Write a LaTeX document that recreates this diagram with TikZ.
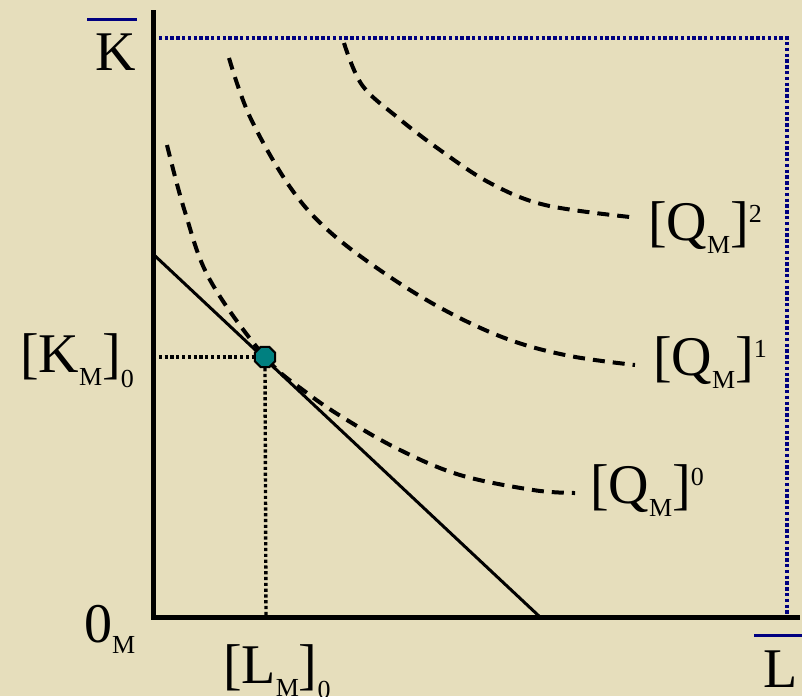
\documentclass[tikz,border=0pt]{standalone}
\usepackage{fontspec}
\setmainfont{Liberation Serif}
\usetikzlibrary{shapes.geometric}
\definecolor{bg}{RGB}{230,222,188}
\definecolor{navyd}{RGB}{0,0,128}
\definecolor{tealdot}{RGB}{0,128,128}
\newcommand{\bigf}{\fontsize{56}{60}\selectfont}
\newcommand{\smf}{\fontsize{26}{28}\selectfont}
\newcommand{\sbM}{\raisebox{-13pt}{\smf M}}
\newcommand{\sbZ}{\raisebox{-15pt}{\smf 0}}
\newcommand{\spX}[1]{\raisebox{18pt}{\smf #1}}
\tikzset{
  lbl/.style={inner sep=0pt, outer sep=0pt, anchor=base west, font=\bigf},
  axis/.style={line width=5pt},
  frame/.style={navyd, line width=3.6pt, dash pattern=on 3.4pt off 2.4pt},
  guide/.style={black, line width=3.4pt, dash pattern=on 3.2pt off 2.6pt},
  iso/.style={line width=4pt, dash pattern=on 12pt off 8pt},
  budget/.style={line width=3pt},
  barline/.style={navyd, line width=3pt}
}
\begin{document}
\begin{tikzpicture}[x=1pt,y=-1pt]
\useasboundingbox (0,0) rectangle (802,696);
\fill[bg] (0,0) rectangle (802,696);
% coordinates
\coordinate (O) at (153,617);
\coordinate (Ktop) at (153,10);
\coordinate (Lend) at (800,617);
\coordinate (Kbar) at (153,38);
\coordinate (corner) at (787,38);
\coordinate (Lbar) at (787,617);
\coordinate (B1) at (153,254);
\coordinate (B2) at (540,617);
\coordinate (Ky) at (153,357);
\coordinate (Lx) at (266,617);
% frame
\draw[frame] (Kbar) -- (corner) -- (Lbar);
% iso curves
\draw[iso] plot[smooth, tension=0.6] coordinates {(167,145) (185,212) (210,280) (265,357) (307,393) (347,420) (400,450) (460,475) (533,490) (575,493)};
\draw[iso] plot[smooth, tension=0.6] coordinates {(229,58) (250,117) (290,187) (330,232) (390,277) (450,313) (510,340) (570,356) (635,365)};
\draw[iso] plot[smooth, tension=0.6] coordinates {(344,43) (362,85) (397,117) (440,150) (490,183) (545,205) (630,217)};
% budget
\draw[budget] (B1) -- (B2);
% guides
\node[regular polygon, regular polygon sides=8, minimum size=22pt, inner sep=0pt, fill=tealdot, draw=black, line width=2pt] (E) at (265,357) {};
\draw[guide] (Ky) -- (E.west);
\draw[guide] (E.south) -- (Lx);
% axes
\draw[axis] (Ktop) -- (O) -- (Lend);
% labels
\node[lbl] (Klab) at (95,70) {K};
\draw[barline] (87,19) -- (137,19);
\node[lbl] (Llab) at (763,687) {L};
\draw[barline] (754,635) -- (802,635);
\node[lbl] (Olab) at (84,642) {0\raisebox{-11pt}{\smf M}};
\node[lbl] (LM) at (223,683) {[L\sbM]\sbZ};
\node[lbl] (KM) at (20,372) {[K\sbM]\sbZ};
\node[lbl] (Q2) at (648,240) {[Q\sbM]\spX{2}};
\node[lbl] (Q1) at (653,375) {[Q\sbM]\spX{1}};
\node[lbl] (Q0) at (590,503) {[Q\sbM]\spX{0}};
\end{tikzpicture}
\end{document}
